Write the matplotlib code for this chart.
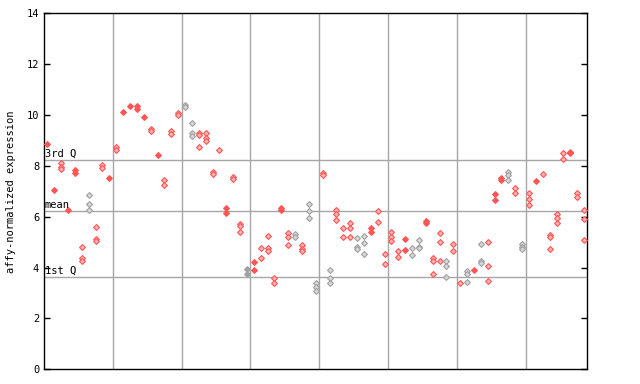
import matplotlib
matplotlib.use("Agg")
import matplotlib.pyplot as plt
import numpy as np

# expression values per sample (replicates)
samples = [
    [8.85], [7.04], [8.12, 7.97, 7.88], [6.26], [7.84, 7.72],
    [4.80, 4.36, 4.27], [6.85, 6.49, 6.25], [5.58, 5.11, 5.05], [8.03, 7.90], [7.53],
    [8.75, 8.62], [10.11], [10.35], [10.35, 10.25], [9.91],
    [9.46, 9.37], [8.42], [7.43, 7.25], [9.37, 9.24], [10.09, 9.99],
    [10.39, 10.30], [9.67, 9.28, 9.19], [9.28, 9.20, 8.73], [9.28, 9.08, 8.99], [7.77, 7.68],
    [8.61], [6.33, 6.16], [7.57, 7.48], [5.73, 5.64, 5.39], [3.96, 3.74],
    [4.22, 3.92], [4.77, 4.36], [5.23, 4.76, 4.64], [3.58, 3.38], [6.33, 6.26],
    [5.35, 5.19, 4.89], [5.32, 5.19], [4.89, 4.74, 4.64], [6.49, 6.21, 5.94], [3.38, 3.25, 3.08],
    [7.73, 7.64], [3.89, 3.58, 3.38], [6.26, 6.11, 5.86], [5.54, 5.19], [5.74, 5.54, 5.19],
    [5.15, 4.82, 4.74], [5.23, 4.95, 4.52], [5.54, 5.41], [6.21, 5.78], [4.52, 4.13],
    [5.39, 5.19, 5.03], [4.64, 4.40], [5.14, 4.68], [4.76, 4.48], [5.07, 4.82, 4.76],
    [5.84, 5.74], [4.36, 4.27, 3.74], [5.35, 4.99, 4.25], [4.25, 4.07, 3.62], [4.91, 4.64],
    [3.38], [3.85, 3.74, 3.42], [3.91], [4.91, 4.25, 4.17], [4.99, 4.05, 3.46],
    [6.91, 6.65], [7.51, 7.44], [7.77, 7.64, 7.44], [7.12, 6.94], [4.91, 4.82, 4.73],
    [6.92, 6.68, 6.45], [7.42], [7.68], [5.27, 5.19, 4.72], [6.09, 5.94, 5.74],
    [8.49, 8.26], [8.56, 8.49], [6.92, 6.79], [6.25, 5.90, 5.07],
]
grey_samples = [6, 20, 21, 29, 36, 38, 39, 41, 45, 46, 53, 54, 58, 61, 63, 67, 69]
filled_samples = [0, 1, 3, 4, 9, 11, 12, 13, 14, 16, 26, 29, 30, 34, 47, 52, 55, 62, 65, 66, 71, 76]

q3 = 8.23
mean = 6.21
q1 = 3.62

plt.rcParams['font.family'] = 'DejaVu Sans Mono'
fig = plt.figure(figsize=(6.4, 3.84), dpi=100)
ax = fig.add_axes([0.06875, 0.0383, 0.8492, 0.9271])

for i, vals in enumerate(samples):
    if i in grey_samples:
        edge, face = '#a0a0a0', '#d8d8d8'
    else:
        edge, face = '#ff5555', '#ffb3b3'
    if i in filled_samples:
        face = edge
    ax.plot([i + 0.5] * len(vals), vals, linestyle='none', marker='D', ms=3,
            mec=edge, mfc=face, mew=0.8, zorder=3)

for x in range(10, 80, 10):
    ax.axvline(x, color='#a6a6a6', lw=1, zorder=1)
for y, lab in [(q3, '3rd Q'), (mean, 'mean'), (q1, '1st Q')]:
    ax.axhline(y, color='#a6a6a6', lw=1, zorder=1)
    ax.text(0.1, y + 0.05, lab, fontsize=7.5, va='bottom', ha='left', zorder=4)

ax.set_xlim(0, len(samples))
ax.set_ylim(0, 14)
ax.set_yticks(np.arange(0, 15, 2))
ax.set_xticks([])
ax.tick_params(axis='y', direction='in', length=4, width=1, right=True, labelsize=7.5)
ax.set_ylabel('affy-normalized expression', fontsize=7.5, labelpad=8)
for s in ax.spines.values():
    s.set_linewidth(1)

fig.savefig('out.png', dpi=100)
